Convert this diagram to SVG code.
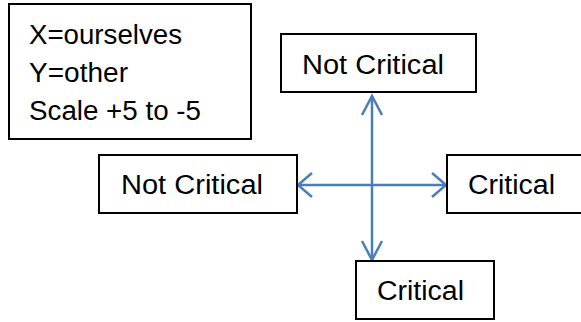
<svg xmlns="http://www.w3.org/2000/svg" width="581" height="322" viewBox="0 0 581 322">
  <style>
    .box { fill: #ffffff; stroke: #000000; stroke-width: 2; }
    .lbl { font-family: "Liberation Sans", Arial, sans-serif; font-size: 27px; fill: #000000; }
    .axis { fill: none; stroke: #4a7ebb; stroke-width: 2.5; }
    .head { fill: none; stroke: #4a7ebb; stroke-width: 2.5; stroke-linejoin: miter; }
  </style>
  <defs>
    <marker id="arrowV" markerUnits="userSpaceOnUse" viewBox="-22 -13 26 26" refX="0" refY="0" markerWidth="26" markerHeight="26" orient="auto-start-reverse">
      <path class="head" d="M-19,-10 L0,0 L-19,10"/>
    </marker>
    <marker id="arrowH" markerUnits="userSpaceOnUse" viewBox="-18 -15 22 30" refX="0" refY="0" markerWidth="22" markerHeight="30" orient="auto-start-reverse">
      <path class="head" d="M-14,-12 L0,0 L-14,12"/>
    </marker>
  </defs>

  <rect width="581" height="322" fill="#ffffff"/>

  <g id="legend">
    <rect class="box" x="9" y="4" width="242" height="135"/>
    <text class="lbl" x="29" y="44" textLength="153" lengthAdjust="spacingAndGlyphs">X=ourselves</text>
    <text class="lbl" x="29" y="82" textLength="99" lengthAdjust="spacingAndGlyphs">Y=other</text>
    <text class="lbl" x="29" y="120" textLength="172" lengthAdjust="spacingAndGlyphs">Scale +5 to -5</text>
  </g>

  <g id="connectors">
    <line class="axis" x1="372" y1="96" x2="372" y2="260" marker-start="url(#arrowV)" marker-end="url(#arrowV)"/>
    <line class="axis" x1="298" y1="185" x2="446" y2="185" marker-start="url(#arrowH)" marker-end="url(#arrowH)"/>
  </g>

  <g id="top-not-critical">
    <rect class="box" x="281" y="34" width="195" height="58"/>
    <text class="lbl" x="302" y="74" textLength="142" lengthAdjust="spacingAndGlyphs">Not Critical</text>
  </g>

  <g id="left-not-critical">
    <rect class="box" x="99" y="155" width="198" height="58"/>
    <text class="lbl" x="121" y="194" textLength="142" lengthAdjust="spacingAndGlyphs">Not Critical</text>
  </g>

  <g id="right-critical">
    <rect class="box" x="447" y="155" width="150" height="58"/>
    <text class="lbl" x="468" y="194" textLength="87" lengthAdjust="spacingAndGlyphs">Critical</text>
  </g>

  <g id="bottom-critical">
    <rect class="box" x="356" y="261" width="138" height="58"/>
    <text class="lbl" x="377" y="300" textLength="87" lengthAdjust="spacingAndGlyphs">Critical</text>
  </g>
</svg>
